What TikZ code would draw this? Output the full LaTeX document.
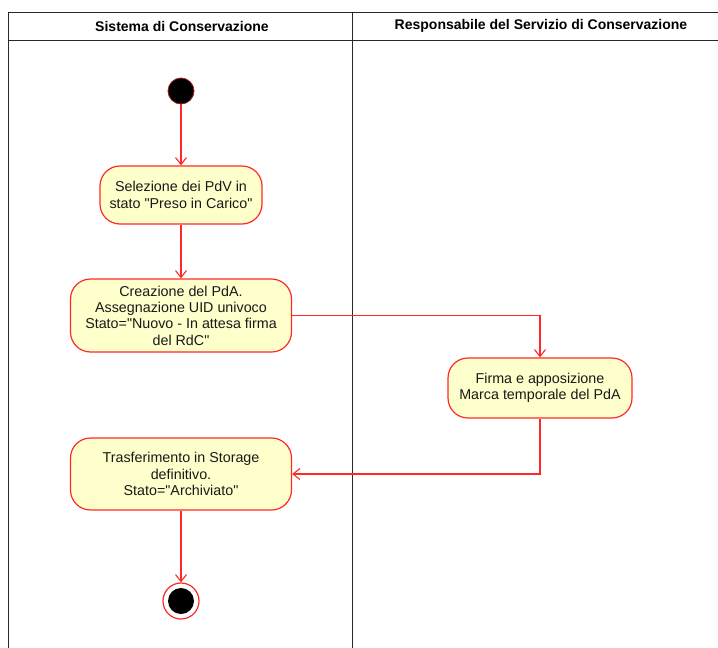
\documentclass[tikz,border=0pt]{standalone}
\usepackage{fontspec}
\setmainfont{Liberation Sans}[Ligatures=TeXOff]
\usetikzlibrary{arrows.meta}
\definecolor{umlred}{RGB}{255,40,40}
\definecolor{umlfill}{RGB}{255,255,204}
\definecolor{laneline}{RGB}{40,40,40}
\tikzset{
  act/.style={draw=umlred, fill=umlfill, line width=1.2pt, rounded corners=20pt, align=center,
    font=\fontsize{14.3}{16.3}\selectfont, inner sep=0pt, text=black!90},
  flow/.style={draw=umlred, line width=1.1pt, -{Straight Barb[length=7pt,width=11pt]}},
  lane/.style={draw=laneline, line width=0.9pt},
  hdr/.style={font=\bfseries\fontsize{14}{16}\selectfont}
}
\begin{document}
\begin{tikzpicture}[x=1pt,y=-1pt]
\useasboundingbox (0,0) rectangle (718,648);
% swimlanes
\draw[lane] (8,648) -- (8,12) -- (720,12);
\draw[lane] (8,40) -- (720,40);
\draw[lane] (352,12) -- (352,648);
\node[hdr] (h1) at (182,26) {Sistema di Conservazione};
\node[hdr] (h2) at (541,26) {Responsabile del Servizio di Conservazione};
% nodes
\node[circle, fill=black, draw=umlred!60!black, line width=0.8pt, minimum size=26pt, inner sep=0pt] (start) at (181,91) {};
\node[act, minimum width=162pt, minimum height=58pt] (a1) at (181,195) {Selezione dei PdV in\\stato "Preso in Carico"};
\node[act, minimum width=221pt, minimum height=73pt] (a2) at (181,315.5) {Creazione del PdA.\\Assegnazione UID univoco\\Stato="Nuovo - In attesa firma\\del RdC"};
\node[act, minimum width=184pt, minimum height=60pt] (a3) at (540,388) {Firma e apposizione\\Marca temporale del PdA};
\node[act, minimum width=221pt, minimum height=72pt] (a4) at (181,474) {Trasferimento in Storage\\definitivo.\\Stato="Archiviato"};
\node[circle, draw=umlred, line width=1.2pt, fill=white, minimum size=36pt, inner sep=0pt] (end) at (181,601) {};
\node[circle, fill=black, minimum size=26pt, inner sep=0pt] (endin) at (end.center) {};
% flows
\draw[flow] (start) -- (a1);
\draw[flow] (a1) -- (a2);
\draw[flow] (a2.east) -| (a3.north);
\draw[flow] (a3.south) |- (a4.east);
\draw[flow] (a4) -- (end);
\end{tikzpicture}
\end{document}
